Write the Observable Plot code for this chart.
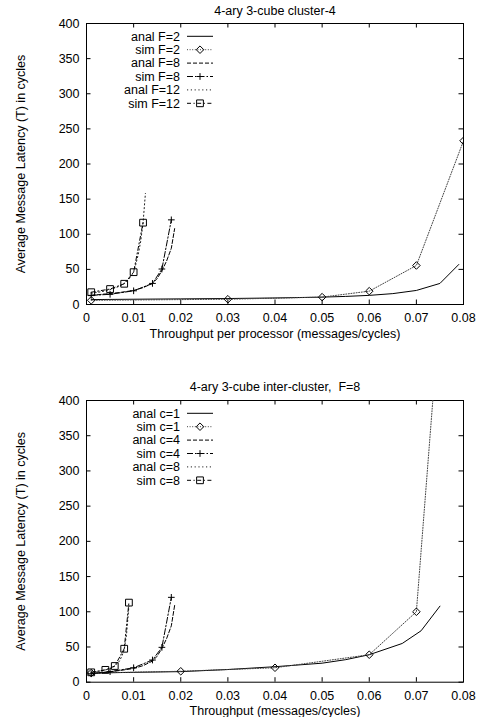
<!DOCTYPE html>
<html>
<head>
<meta charset="utf-8">
<script src="https://cdn.jsdelivr.net/npm/d3@7"></script>
<script src="https://cdn.jsdelivr.net/npm/@observablehq/plot@0.6"></script>
<style>
  html, body { margin: 0; padding: 0; background: #fff; }
  #chart { width: 482px; }
  #chart svg { display: block; }
  text { white-space: pre; }
</style>
</head>
<body>
<div id="chart"></div>
<script>
// ---------- data ----------
const xTicks = [0, 0.01, 0.02, 0.03, 0.04, 0.05, 0.06, 0.07, 0.08];
const yTicks = [0, 50, 100, 150, 200, 250, 300, 350, 400];

const title1 = "4-ary 3-cube cluster-4";
const xLabel1 = "Throughput per processor (messages/cycles)";
const title2 = "4-ary 3-cube inter-cluster,  F=8";
const xLabel2 = "Throughput (messages/cycles)";
const yLabel = "Average Message Latency (T) in cycles";

// top panel
const analF2x = [0.001, 0.01, 0.02, 0.03, 0.04, 0.05, 0.055, 0.06, 0.065, 0.07, 0.075, 0.079];
const analF2y = [7, 7.5, 8, 8.5, 9.3, 10.5, 11.5, 13, 15.5, 20, 30, 57];
const simF2x = [0.001, 0.03, 0.05, 0.06, 0.07, 0.08];
const simF2y = [6, 7.5, 10.5, 19, 55.5, 233];
const analF8x = [0.001, 0.004, 0.007, 0.01, 0.012, 0.014, 0.015, 0.016, 0.017, 0.018, 0.0187];
const analF8y = [13, 15, 17, 20, 24, 30, 37, 48, 62, 80, 108];
const simF8x = [0.001, 0.005, 0.01, 0.014, 0.016, 0.018];
const simF8y = [13, 14.5, 19.5, 30, 50.5, 120.5];
const analF12x = [0.001, 0.003, 0.005, 0.007, 0.008, 0.009, 0.01, 0.0105, 0.011, 0.0115, 0.012, 0.0125];
const analF12y = [16, 18, 21, 26, 30, 36, 46, 58, 72, 90, 116, 158];
const simF12x = [0.001, 0.005, 0.008, 0.01, 0.012];
const simF12y = [17.5, 22, 29.5, 46, 116.5];

// bottom panel
const analC1x = [0.001, 0.01, 0.02, 0.03, 0.04, 0.05, 0.055, 0.06, 0.067, 0.071, 0.075];
const analC1y = [13, 14, 15, 18, 22, 27, 32, 39, 55, 73, 108];
const simC1x = [0.001, 0.02, 0.04, 0.06, 0.07, 0.075];
const simC1y = [13, 15.5, 20.5, 39, 100, 530];
const analC4x = [0.001, 0.004, 0.007, 0.01, 0.012, 0.014, 0.015, 0.016, 0.017, 0.018, 0.0187];
const analC4y = [12, 14, 16.5, 19.5, 23.5, 30, 37, 48, 62, 80, 109];
const simC4x = [0.001, 0.005, 0.01, 0.014, 0.016, 0.018];
const simC4y = [12, 15, 20.5, 31.5, 49.5, 120.5];
const analC8x = [0.001, 0.003, 0.005, 0.006, 0.007, 0.0075, 0.008, 0.0085, 0.009];
const analC8y = [14, 16, 19, 23, 30, 37, 46, 68, 108];
const simC8x = [0.001, 0.004, 0.006, 0.008, 0.009];
const simC8y = [14, 17.5, 23, 47.5, 113];

// ---------- styles ----------
const STY = {
  solid:  {dash: null,      stroke: "#000", symbol: null},
  simA:   {dash: "1,1.6",   stroke: "#444", symbol: "diamond2", r: 3.4},
  dashed: {dash: "4,2",     stroke: "#000", symbol: null},
  simB:   {dash: "6,2,1.5,2", stroke: "#000", symbol: "plus", r: 2.3},
  dotted: {dash: "1.2,2.6", stroke: "#222", symbol: null},
  simC:   {dash: "4,2.5,1.2,2.5", stroke: "#000", symbol: "square2", r: 4.3}
};
const FONT = "'Liberation Sans', Arial, Helvetica, sans-serif";
const FS = 12.5;
const W = 482, ML = 86, MR = 19;

function toRows(xs, ys) { return xs.map((x, i) => ({x, y: ys[i]})); }

function panel({title, xlabel, series, height, mt, mb, titleDy, xlabelDy, tickPad}) {
  const fw = W - ML - MR;
  const fh = height - mt - mb;
  const marks = [
    Plot.frame({stroke: "#000", strokeWidth: 1}),
    Plot.tickX(xTicks, {x: d => d, insetTop: fh - 4.5, stroke: "#000"}),
    Plot.tickX(xTicks, {x: d => d, insetBottom: fh - 4.5, stroke: "#000"}),
    Plot.tickY(yTicks, {y: d => d, insetRight: fw - 4.5, stroke: "#000"}),
    Plot.tickY(yTicks, {y: d => d, insetLeft: fw - 4.5, stroke: "#000"}),
    Plot.axisX(xTicks, {tickSize: 0, tickPadding: tickPad, tickFormat: d => d === 0 ? "0" : d3.format(".2f")(d), fill: "#000", fontSize: FS, label: null}),
    Plot.axisY(yTicks, {tickSize: 0, tickPadding: 7, tickFormat: d => String(d), fill: "#000", fontSize: FS, label: null})
  ];
  for (const s of series) {
    const rows = toRows(s.xs, s.ys);
    marks.push(Plot.line(rows, {x: "x", y: "y", stroke: s.st.stroke, strokeWidth: 1, strokeDasharray: s.st.dash, clip: true}));
    if (s.st.symbol) {
      marks.push(Plot.dot(rows, {x: "x", y: "y", symbol: s.st.symbol, r: s.st.r, stroke: "#000", strokeWidth: 1, fill: "none", clip: true}));
    }
  }
  marks.push(Plot.text([title], {frameAnchor: "top", dy: titleDy, text: d => d, fontSize: FS, fill: "#000", lineAnchor: "middle"}));
  marks.push(Plot.text([xlabel], {frameAnchor: "bottom", dy: xlabelDy, text: d => d, fontSize: FS, fill: "#000", lineAnchor: "middle"}));
  marks.push(Plot.text([yLabel], {frameAnchor: "left", dx: 20 - ML, rotate: -90, textAnchor: "middle", text: d => d, fontSize: FS, fill: "#000", lineAnchor: "middle"}));

  const svg = Plot.plot({
    width: W, height,
    marginTop: mt, marginBottom: mb, marginLeft: ML, marginRight: MR,
    x: {domain: [0, 0.08], axis: null},
    y: {domain: [0, 400], axis: null},
    style: {fontFamily: FONT, fontSize: FS + "px", background: "#fff", color: "#000", overflow: "visible"},
    marks
  });

  // legend (inside the frame, top-left, gnuplot style)
  const g = d3.select(svg).append("g").attr("font-family", FONT).attr("font-size", FS);
  const symMap = {diamond2: d3.symbolDiamond2, plus: d3.symbolPlus, square2: d3.symbolSquare2};
  series.forEach((s, i) => {
    const y = mt + 13.3 + 13.4 * i;
    g.append("text").attr("x", 180).attr("y", y).attr("text-anchor", "end")
      .attr("dy", "0.35em").attr("fill", "#000").text(s.label);
    g.append("line").attr("x1", 187).attr("x2", 213).attr("y1", y).attr("y2", y)
      .attr("stroke", s.st.stroke).attr("stroke-width", 1)
      .attr("stroke-dasharray", s.st.dash);
    if (s.st.symbol) {
      g.append("path").attr("transform", `translate(200,${y})`)
        .attr("d", d3.symbol(symMap[s.st.symbol], s.st.r * s.st.r * Math.PI)())
        .attr("fill", "none").attr("stroke", "#000").attr("stroke-width", 1);
    }
  });
  return svg;
}

const topPanel = panel({
  title: title1, xlabel: xLabel1, height: 345, mt: 23, mb: 41, titleDy: -13, xlabelDy: 29, tickPad: 9,
  series: [
    {label: "anal F=2", xs: analF2x, ys: analF2y, st: STY.solid},
    {label: "sim F=2", xs: simF2x, ys: simF2y, st: STY.simA},
    {label: "anal F=8", xs: analF8x, ys: analF8y, st: STY.dashed},
    {label: "sim F=8", xs: simF8x, ys: simF8y, st: STY.simB},
    {label: "anal F=12", xs: analF12x, ys: analF12y, st: STY.dotted},
    {label: "sim F=12", xs: simF12x, ys: simF12y, st: STY.simC}
  ]
});
const bottomPanel = panel({
  title: title2, xlabel: xLabel2, height: 372, mt: 55, mb: 35.3, titleDy: -14, xlabelDy: 28.5, tickPad: 8.5,
  series: [
    {label: "anal c=1", xs: analC1x, ys: analC1y, st: STY.solid},
    {label: "sim c=1", xs: simC1x, ys: simC1y, st: STY.simA},
    {label: "anal c=4", xs: analC4x, ys: analC4y, st: STY.dashed},
    {label: "sim c=4", xs: simC4x, ys: simC4y, st: STY.simB},
    {label: "anal c=8", xs: analC8x, ys: analC8y, st: STY.dotted},
    {label: "sim c=8", xs: simC8x, ys: simC8y, st: STY.simC}
  ]
});
document.getElementById("chart").append(topPanel, bottomPanel);
</script>
</body>
</html>
